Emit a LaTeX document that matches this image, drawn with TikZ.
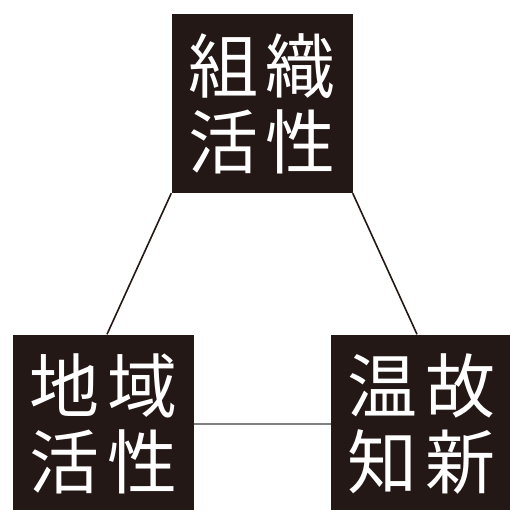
\documentclass[tikz,border=0pt]{standalone}
\usepackage{fontspec}
\usepackage{xcolor}
\usepackage{tikz}
\newfontfamily\jpfont{Noto Sans CJK JP}
\definecolor{oden}{HTML}{231815}

\begin{document}
\begin{tikzpicture}[x=1pt,y=-1pt,
	khoi/.style={fill=oden,text=white,minimum width=181pt,minimum height=179pt,
		inner sep=0pt,align=center,font=\jpfont\fontsize{70pt}{76pt}\selectfont},
	noi/.style={line width=1.6pt,oden}]
			\useasboundingbox (0,0) rectangle (509,510);
			% Vẽ ô
			\node[khoi] (soshiki) at (262,103.5) {組\kern8pt織\\活\kern8pt性};
			\node[khoi] (chiiki) at (103.5,424) {地\kern8pt域\\活\kern8pt性};
			\node[khoi] (onko) at (421.5,424) {温\kern8pt故\\知\kern8pt新};
			% Vẽ đường nối
			\draw[noi] (soshiki.south west) -- ([xshift=3.5pt]chiiki.north);
			\draw[noi] (soshiki.south east) -- ([xshift=-4.5pt]onko.north);
			\draw[noi,gray] (chiiki.east) -- (onko.west);
		\end{tikzpicture}
\end{document}
